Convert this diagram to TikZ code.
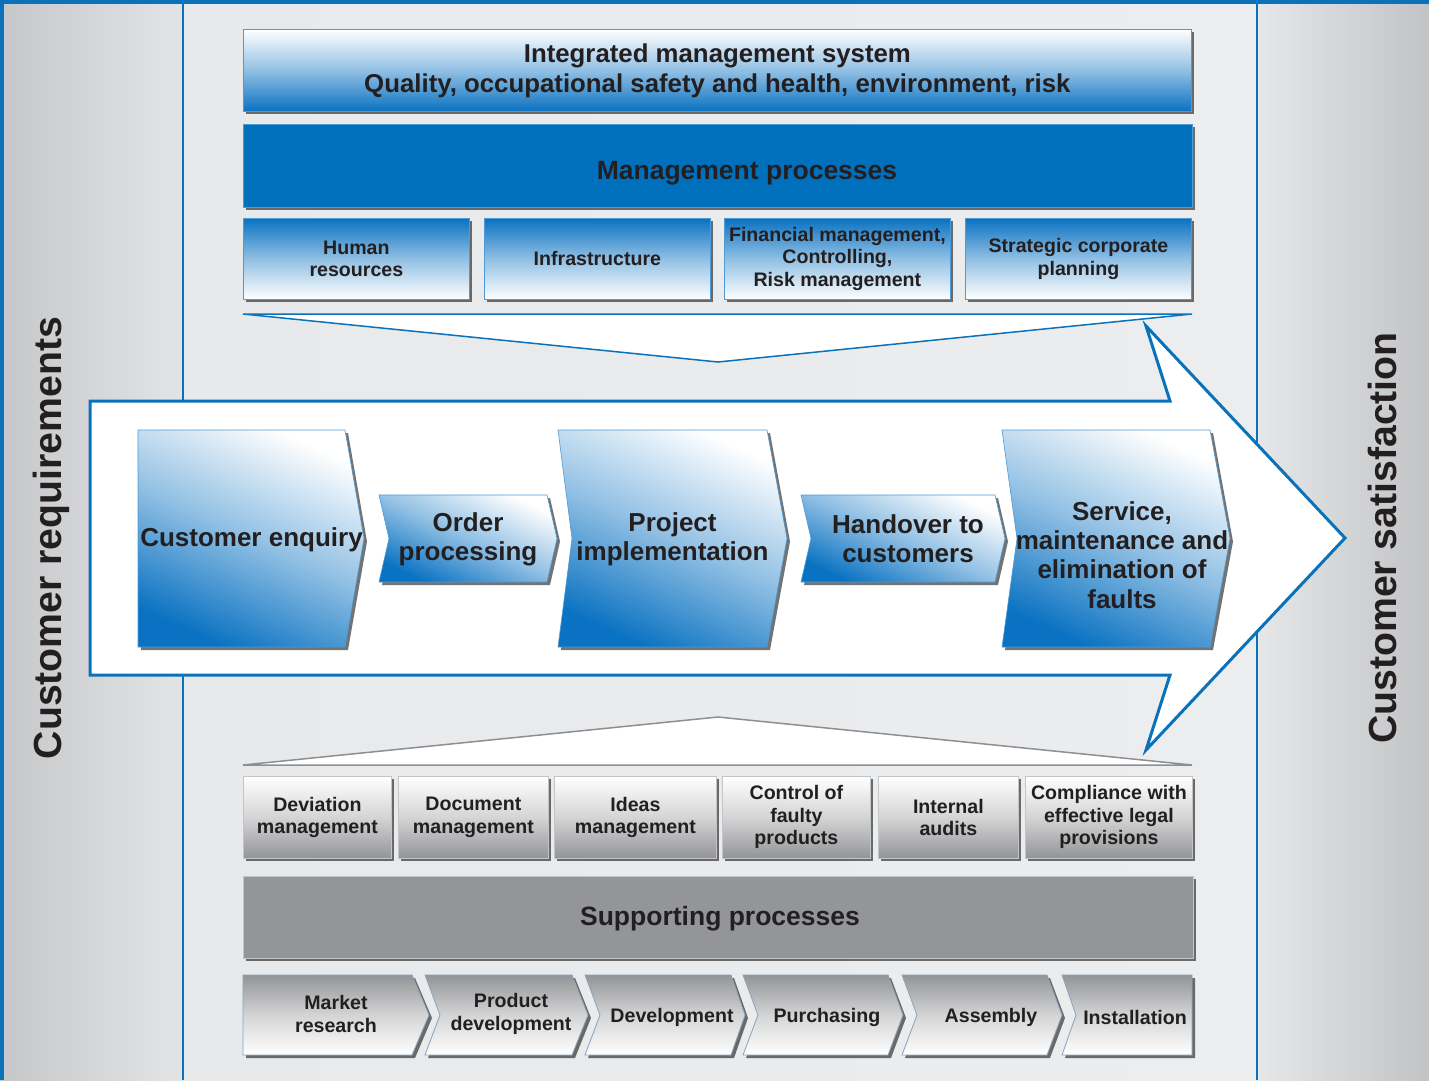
\documentclass[tikz,border=0pt]{standalone}
\usepackage{fontspec}
\setmainfont{Liberation Sans}
\usetikzlibrary{shadows}
\definecolor{myblue}{HTML}{0070BD}
\definecolor{chevblue}{HTML}{0A72C2}
\definecolor{frameblue}{HTML}{0A72BA}
\definecolor{txt}{HTML}{231F20}
\definecolor{supgray}{HTML}{939598}
\definecolor{boxgray}{HTML}{939497}
\definecolor{lightedge}{HTML}{4C9BD8}
\definecolor{grayedge}{HTML}{C4C5C7}
\definecolor{chevedge}{HTML}{8AA3BC}
\definecolor{tridge}{HTML}{8E8F92}
\definecolor{leftdark}{HTML}{C6C7C9}
\definecolor{leftlight}{HTML}{E3E4E5}
\definecolor{midl}{HTML}{E8E9EA}
\definecolor{midc}{HTML}{F2F3F3}
\definecolor{midr}{HTML}{ECEDEE}
\definecolor{rightlight}{HTML}{E6E7E8}
\definecolor{rightdark}{HTML}{C2C3C5}
\pgfdeclareverticalshading{fadeblue}{100bp}{color(0bp)=(chevblue); color(25bp)=(chevblue); color(50bp)=(chevblue!45!white); color(75bp)=(white); color(100bp)=(white)}
\pgfdeclareverticalshading{fadegray}{100bp}{color(0bp)=(boxgray); color(25bp)=(boxgray); color(50bp)=(boxgray!40!white); color(75bp)=(white); color(100bp)=(white)}
\tikzset{
  shadowed/.style={drop shadow={shadow xshift=3pt,shadow yshift=-3pt,fill=black,opacity=0.55}},
  boxbase/.style={shadowed,anchor=north west,inner sep=0pt,align=center,text=txt},
  bluebox/.style={boxbase,draw=lightedge,line width=0.8pt,shading=fadeblue},
  graybox/.style={boxbase,draw=grayedge,line width=0.8pt,shading=fadegray,shading angle=0},
  bigchev/.style={shadowed,draw=lightedge,line width=0.6pt,shading=fadeblue,shading angle=-25},
  graychev/.style={shadowed,draw=chevedge,line width=0.8pt,shading=fadegray,shading angle=180},
  bigtext/.style={text=txt,align=center,inner sep=0pt,font=\fontsize{26}{29.2}\selectfont\bfseries},
  bandtext/.style={text=txt,align=center,inner sep=0pt,font=\fontsize{26.5}{29}\selectfont\bfseries},
  smalltext/.style={font=\fontsize{19.6}{22.5}\selectfont\bfseries},
  sidetext/.style={text=txt,inner sep=0pt,rotate=90,font=\fontsize{39.2}{40}\selectfont\bfseries},
  arrowline/.style={draw=frameblue,line width=3pt,fill=white,line join=miter},
}
\newcommand\mychev[7]{%
  \path[#1] (#2,-#6) -- (#4,-#6) -- (#5,{-(#6+#7)/2}) -- (#4,-#7) -- (#2,-#7) -- (#3,{-(#6+#7)/2}) -- cycle;}
\begin{document}
\begin{tikzpicture}[x=1pt,y=1pt]
\useasboundingbox (0,0) rectangle (1429,-1080);
% backgrounds
\fill[left color=leftdark,right color=leftlight] (0,0) rectangle (183,-1080);
\fill[left color=midl,middle color=midc,right color=midr] (183,0) rectangle (1257,-1080);
\fill[left color=rightlight,right color=rightdark] (1257,0) rectangle (1429,-1080);
\fill[frameblue] (0,0) rectangle (1429,-4);
\fill[frameblue] (0,0) rectangle (4,-1080);
\draw[frameblue,line width=2pt] (183,0) -- (183,-1080);
\draw[frameblue,line width=2pt] (1257,0) -- (1257,-1080);
% side texts
\node[sidetext] (creq) at (51,-538) {Customer requirements};
\node[sidetext] (csat) at (1382,-538) {Customer satisfaction};
% funnels
\path[draw=frameblue,line width=1.5pt,fill=white] (243,-314) -- (1192,-314) -- (718,-362) -- cycle;
\path[draw=tridge,line width=1.5pt,fill=white] (243,-765) -- (1192,-765) -- (718,-717) -- cycle;
% big arrow
\path[arrowline] (90,-401) -- (1170,-401) -- (1146,-326) -- (1345,-538) -- (1146,-750) -- (1170,-675) -- (90,-675) -- cycle;
% top boxes
\node[bluebox,shading angle=0,minimum width=948,minimum height=82,font=\fontsize{25.8}{30}\selectfont\bfseries] (ims) at (243,-29)
  {Integrated management system\\Quality, occupational safety and health, environment, risk};
\node[boxbase,draw=lightedge,line width=0.8pt,fill=myblue,minimum width=949,minimum height=83] (mgmt) at (243,-124) {};
\node[bandtext] (mgmtlabel) at (747,-173) {Management processes};
\node[bluebox,shading angle=180,minimum width=226,minimum height=81,smalltext] (hr) at (243,-218) {Human\\resources};
\node[bluebox,shading angle=180,minimum width=226,minimum height=81,smalltext] (infra) at (484,-218) {Infrastructure};
\node[bluebox,shading angle=180,minimum width=226,minimum height=81,smalltext] (fin) at (724,-218) {Financial management,\\Controlling,\\Risk management};
\node[bluebox,shading angle=180,minimum width=226,minimum height=81,smalltext] (strat) at (965,-218) {Strategic corporate\\planning};
% main chevrons
\mychev{bigchev}{138}{138}{345}{364}{430}{647}
\mychev{bigchev}{379}{389}{547}{557}{495}{582}
\mychev{bigchev}{558}{572}{767}{787}{430}{647}
\mychev{bigchev}{801}{811}{995}{1005}{495}{582}
\mychev{bigchev}{1002}{1017}{1210}{1230}{430}{647}
\node[bigtext] (enq) at (251.5,-540) {Customer enquiry};
\node[bigtext] (order) at (468,-539) {Order\\processing};
\node[bigtext] (proj) at (672.5,-539) {Project\\implementation};
\node[bigtext] (hand) at (908,-539) {Handover to\\customers};
\node[bigtext] (serv) at (1122,-555) {Service,\\maintenance and\\elimination of\\faults};
% supporting boxes
\node[graybox,minimum width=148,minimum height=82,smalltext] (dev) at (243,-776) {Deviation\\management};
\node[graybox,minimum width=150,minimum height=82,smalltext] (doc) at (398,-776) {Document\\management};
\node[graybox,minimum width=162,minimum height=82,smalltext] (idea) at (554,-776) {Ideas\\management};
\node[graybox,minimum width=148,minimum height=82,smalltext] (ctrl) at (722,-776) {Control of\\faulty\\products};
\node[graybox,minimum width=140,minimum height=82,smalltext] (audit) at (878,-776) {Internal\\audits};
\node[graybox,minimum width=167,minimum height=82,smalltext] (comp) at (1025,-776) {Compliance with\\effective legal\\provisions};
\node[boxbase,draw=grayedge,line width=0.8pt,fill=supgray,minimum width=950,minimum height=82] (supp) at (243,-876) {};
\node[bandtext] (supplabel) at (720,-919) {Supporting processes};
% bottom chevrons
\mychev{graychev}{243}{243}{412}{429}{975}{1055}
\mychev{graychev}{425}{440}{572}{588}{975}{1055}
\mychev{graychev}{585}{600}{731}{745}{975}{1055}
\mychev{graychev}{743}{758}{888}{903}{975}{1055}
\mychev{graychev}{902}{917}{1047}{1062}{975}{1055}
\mychev{graychev}{1062}{1076}{1192}{1192}{975}{1055}
\node[text=txt,align=center,inner sep=0pt,smalltext] (market) at (336,-1014) {Market\\research};
\node[text=txt,align=center,inner sep=0pt,smalltext] (proddev) at (511,-1014) {Product\\development};
\node[text=txt,align=center,inner sep=0pt,smalltext] (devel) at (672,-1017) {Development};
\node[text=txt,align=center,inner sep=0pt,smalltext] (purch) at (827,-1017) {Purchasing};
\node[text=txt,align=center,inner sep=0pt,smalltext] (assem) at (991,-1017) {Assembly};
\node[text=txt,align=center,inner sep=0pt,smalltext] (inst) at (1135,-1017) {Installation};
\end{tikzpicture}
\end{document}
